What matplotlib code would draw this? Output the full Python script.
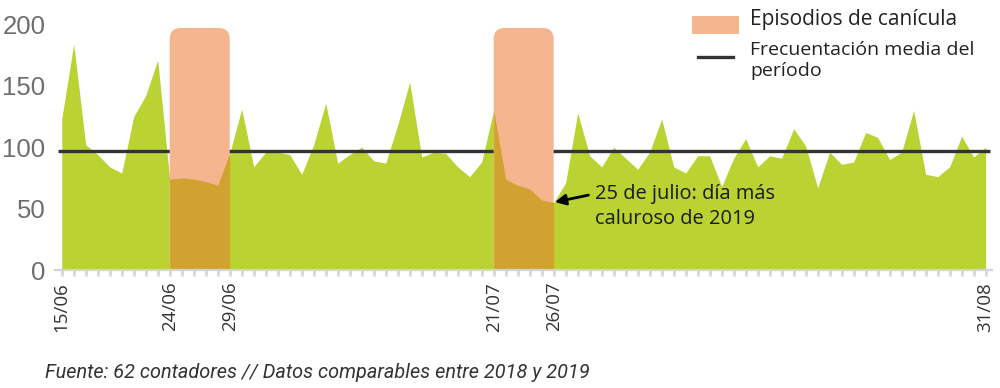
import matplotlib
matplotlib.use("Agg")
import matplotlib.pyplot as plt
from matplotlib.patches import FancyBboxPatch, Rectangle
from matplotlib.lines import Line2D

# daily index of cyclist counts, 15/06 -> 31/08/2019
dias = list(range(78))
frecuentacion = [123, 184, 102, 94, 84, 79, 125, 142, 171, 74,
                 75, 74, 72, 69, 95, 131, 84, 96, 96, 94,
                 78, 102, 136, 87, 94, 100, 89, 87, 118, 153,
                 92, 96, 95, 84, 76, 88, 130, 74, 69, 66,
                 57, 55, 71, 128, 93, 84, 100, 91, 82, 96,
                 123, 84, 79, 93, 93, 68, 91, 107, 84, 93,
                 91, 115, 101, 67, 96, 86, 88, 112, 108, 90,
                 96, 130, 78, 76, 84, 109, 92, 100]
media = 97
canicula = [(9, 14), (36, 41)]   # 24/06-29/06 y 21/07-26/07
tick_pos = [0, 9, 14, 36, 41, 77]
tick_lab = ['15/06', '24/06', '29/06', '21/07', '26/07', '31/08']
ytick_vals = [0, 50, 100, 150, 200]

verde = '#BAD332'
naranja = '#F5B58E'
marron = '#D2A231'
fnt = 'Open Sans'

fig = plt.figure(figsize=(10, 3.88), dpi=100)
ax = fig.add_axes([0.055, 0.304, 0.937, 0.665])

ax.fill_between(dias, 0, frecuentacion, color=verde, lw=0, zorder=1)
ax.plot([-0.3, 77.4], [media, media], color='#333333', lw=2.4, zorder=2, solid_capstyle='butt')

for a, b in canicula:
    box = FancyBboxPatch((a, -20), b - a, 217, boxstyle='round,pad=0,rounding_size=0.9',
                         mutation_aspect=9.8, facecolor=naranja, edgecolor='none', zorder=3)
    ax.add_patch(box)
    xs = dias[a:b + 1]
    ax.fill_between(xs, 0, frecuentacion[a:b + 1], color=marron, lw=0, zorder=4)

ax.set_xlim(-0.56, 77.53)
ax.set_ylim(0, 210)

for s in ['top', 'right', 'left']:
    ax.spines[s].set_visible(False)
ax.spines['bottom'].set_color('#d4d4d4')
ax.spines['bottom'].set_linewidth(1.6)
ax.spines['bottom'].set_zorder(5)

ax.set_xticks(dias, minor=True)
ax.set_xticks(tick_pos)
ax.set_xticklabels(tick_lab, rotation=90, fontname=fnt, fontsize=13.5, color='#333333')
ax.tick_params(axis='x', which='both', direction='out', length=4.5, width=1.8, color='#d4d4d4', pad=4)

ax.set_yticks(ytick_vals)
ax.set_yticklabels([str(v) for v in ytick_vals], fontname='Liberation Sans', fontsize=18.5, color='#6e6e6e')
ax.tick_params(axis='y', length=0, pad=7)

# annotation
ax.annotate('', xy=(41.1, 55.3), xytext=(43.9, 61),
            arrowprops=dict(arrowstyle='-|>', color='black', lw=2, mutation_scale=16,
                            shrinkA=0, shrinkB=0), zorder=6)
ax.text(44.45, 51.5, '25 de julio: día más\ncaluroso de 2019', fontname=fnt, fontsize=14.4,
        color='#1a1a1a', ha='left', va='center', linespacing=1.35, zorder=6)

# legend
fig.patches.append(Rectangle((0.692, 0.9124), 0.047, 0.0464, transform=fig.transFigure,
                             facecolor=naranja, edgecolor='none'))
fig.lines.append(Line2D([0.698, 0.733], [0.853, 0.853], transform=fig.transFigure,
                        color='#333333', lw=2.4))
fig.text(0.750, 0.950, 'Episodios de canícula', fontname=fnt, fontsize=15, color='#222222', va='center')
fig.text(0.750, 0.870, 'Frecuentación media del', fontname=fnt, fontsize=14, color='#222222', va='center')
fig.text(0.750, 0.818, 'período', fontname=fnt, fontsize=14, color='#222222', va='center')

fig.text(0.045, 0.041, 'Fuente: 62 contadores // Datos comparables entre 2018 y 2019',
         fontname='Roboto', style='italic', fontsize=14.3, color='#333333', va='center')

fig.savefig('out.png', dpi=100)
